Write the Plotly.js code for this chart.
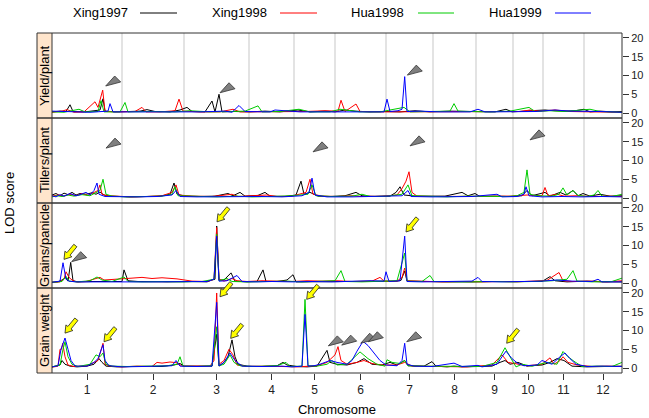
<!DOCTYPE html>
<html><head><meta charset="utf-8">
<script src="https://cdn.plot.ly/plotly-3.0.1.min.js"></script>
<style>html,body{margin:0;padding:0;background:#fff}</style>
</head><body><div id="chart" style="width:649px;height:418px"></div>
<script>
// ---------------- data ----------------
const chromosomes = ['1','2','3','4','5','6','7','8','9','10','11','12'];
// chromosome lengths in map units (1 unit ~ 2.5 cM)
const chromLen = [70,62,65,45,41,51,47,43,37,30,41,38];
const seriesNames = ['Xing1997','Xing1998','Hua1998','Hua1999'];
const seriesColors = ['#000000','#FF0000','#00CC00','#0000FF'];
const traits = ['Yield/plant','Tillers/plant','Grains/panicle','Grain weight'];
const yTicks = [0,5,10,15,20];

// LOD profiles: [position, LOD]
const yield_Xing1997 = [[0,0.3],[8,0.5],[14,0.4],[18,2.2],[21,0.4],[33,0.3],[48,0.8],[51,3.8],[53,0.5],[63,0.3],[78,0.4],[88,0.5],[95,0.9],[103,0.4],[118,0.3],[128,0.8],[135,1.5],[140,0.4],[153,0.3],[160,3.2],[163,0.3],[167,5.0],[170,0.3],[183,0.4],[198,0.3],[213,0.5],[228,0.3],[246,0.8],[258,0.3],[273,0.5],[283,0.3],[293,0.8],[303,0.5],[318,0.3],[333,0.4],[348,0.3],[363,0.6],[378,0.3],[398,0.5],[413,0.4],[428,0.3],[443,0.3],[454,1.0],[460,0.3],[478,0.6],[493,0.8],[503,0.6],[513,0.5],[523,0.6],[532,1.0],[538,0.3],[548,0.5],[560,0.3],[570,0.4]];
const yield_Xing1998 = [[0,0.2],[10,0.5],[15,0.9],[22,0.2],[32,0.3],[43,3.0],[46,1.5],[50.7,6.1],[53,0.4],[68,0.3],[83,0.4],[90,1.5],[94,0.3],[108,0.3],[123,0.6],[127,3.7],[131,0.5],[148,0.3],[168,0.3],[181,1.0],[188,0.3],[208,0.3],[223,0.5],[238,0.3],[253,0.4],[273,0.6],[286,0.5],[289,3.4],[293,0.4],[304,2.4],[308,0.4],[328,0.3],[348,0.3],[368,0.4],[388,0.3],[408,0.3],[428,0.2],[448,0.4],[468,0.4],[478,0.8],[488,0.5],[503,0.8],[518,0.4],[538,0.3],[553,0.3],[570,0.2]];
const yield_Hua1998 = [[0,0.3],[12,0.2],[27,1.0],[33,0.3],[46,0.4],[49,3.3],[52,0.3],[68,0.3],[73,2.8],[76,0.3],[98,0.4],[123,0.3],[138,0.6],[158,0.3],[178,0.4],[193,0.5],[206,1.9],[210,0.3],[228,0.4],[247,1.0],[258,0.3],[278,0.3],[288,1.0],[308,0.3],[328,0.3],[352,1.5],[358,0.3],[378,0.3],[398,0.5],[402,2.5],[406,0.5],[418,0.4],[438,0.3],[458,0.5],[477,1.5],[483,0.4],[498,0.6],[513,0.4],[523,0.6],[538,1.0],[548,0.4],[563,0.3],[570,0.2]];
const yield_Hua1999 = [[0,0.5],[8,0.4],[20,0.3],[38,0.2],[56,0.5],[58,2.5],[61,0.3],[88,0.3],[118,0.2],[148,0.3],[173,0.5],[180,0.2],[187,2.0],[193,0.4],[218,0.3],[223,0.8],[248,0.3],[268,0.3],[308,0.3],[332,0.3],[335,3.7],[338,0.4],[346,0.6],[350,1.0],[352.7,9.7],[355,0.4],[368,0.5],[388,0.3],[418,0.3],[426,1.0],[433,0.3],[458,0.3],[483,0.4],[503,0.8],[518,0.5],[548,0.4],[570,0.2]];

const tillers_Xing1997 = [[0,0.8],[4,1.2],[8,0.6],[12,1.3],[16,0.9],[20,1.5],[24,0.8],[28,1.2],[34,1.0],[40,1.4],[44,1.0],[48,1.6],[52,0.8],[58,0.5],[68,0.4],[78,0.3],[93,0.4],[108,0.5],[118,1.0],[122,4.0],[125,1.0],[133,0.5],[148,0.4],[163,0.5],[176,1.2],[181,0.6],[188,1.5],[193,0.5],[206,0.7],[213,1.5],[218,0.5],[233,0.4],[244,0.8],[249,4.5],[252,1.0],[258,1.5],[266,0.5],[278,0.4],[293,0.6],[304,1.5],[310,0.6],[323,0.4],[338,0.5],[344,1.5],[348,3.0],[352,0.8],[363,0.5],[378,0.4],[393,0.5],[410,1.5],[416,0.6],[423,1.2],[428,0.4],[443,0.5],[458,0.4],[470,0.6],[475,2.0],[480,0.6],[493,1.5],[498,0.5],[508,1.5],[514,0.8],[521,2.0],[526,0.6],[531,1.2],[538,0.5],[548,1.0],[558,0.5],[570,0.6]];
const tillers_Xing1998 = [[0,0.5],[6,0.8],[12,0.5],[18,1.0],[24,0.6],[30,1.2],[36,0.7],[42,1.5],[46,2.0],[48,3.5],[50,1.0],[55,0.6],[65,0.4],[80,0.3],[95,0.4],[110,0.6],[120,1.5],[124,3.5],[127,0.8],[140,0.5],[160,0.4],[180,1.0],[186,0.4],[200,0.5],[215,0.8],[225,0.4],[240,0.5],[254,1.5],[258,5.0],[261,1.0],[270,0.5],[285,0.4],[300,0.6],[310,0.4],[330,0.5],[345,0.8],[350,2.5],[354,4.5],[357,7.0],[360,1.5],[365,0.5],[380,0.4],[400,0.4],[420,0.5],[440,0.4],[460,0.5],[475,0.8],[490,0.6],[493,2.8],[496,0.6],[505,1.0],[512,0.5],[525,0.6],[540,0.4],[555,0.5],[570,0.4]];
const tillers_Hua1998 = [[0,0.3],[5,0.6],[10,0.4],[16,0.8],[22,0.5],[30,0.9],[38,0.6],[44,1.5],[48,2.0],[51,5.0],[54,1.0],[60,0.5],[75,0.3],[95,0.4],[110,0.5],[120,1.0],[123,3.0],[126,0.6],[145,0.4],[165,0.3],[185,0.5],[200,0.3],[220,0.4],[240,0.6],[256,1.0],[260,3.5],[264,0.6],[280,0.4],[300,0.5],[310,1.0],[318,0.4],[335,0.5],[350,1.0],[356,3.5],[360,0.6],[375,0.4],[395,0.3],[415,0.5],[435,0.4],[455,0.4],[465,0.6],[472,1.5],[475,7.5],[478,1.0],[485,0.6],[500,0.5],[507,1.0],[511,2.7],[515,0.8],[521,2.0],[526,0.7],[535,0.4],[542,0.8],[546,2.0],[550,0.5],[560,0.4],[570,1.0]];
const tillers_Hua1999 = [[0,0.6],[4,0.3],[8,0.9],[12,0.5],[18,1.2],[24,0.6],[28,0.9],[34,1.5],[38,0.8],[42,2.0],[45,4.0],[47,1.0],[53,0.4],[65,0.3],[85,0.3],[105,0.4],[120,0.8],[124,2.0],[128,0.4],[145,0.3],[170,0.4],[190,0.3],[210,0.4],[230,0.3],[250,0.6],[257,1.5],[260,5.3],[263,0.8],[275,0.3],[300,0.3],[325,0.4],[350,0.6],[356,2.0],[359,0.4],[380,0.3],[400,0.3],[420,0.4],[445,1.0],[450,0.3],[465,0.4],[472,1.0],[474,3.0],[477,0.6],[490,0.3],[510,0.4],[530,0.3],[550,0.4],[570,0.3]];

const grains_Xing1997 = [[0,0.2],[6,0.3],[10,0.8],[14,1.5],[16,0.5],[18.7,5.5],[21,0.6],[26,0.3],[40,0.4],[55,0.5],[70,0.4],[72,3.5],[76,0.6],[86,0.4],[100,0.3],[115,0.3],[140,0.4],[155,0.3],[160,0.8],[163,1.0],[164.7,15.2],[167,0.8],[172,0.8],[179,2.7],[183,0.5],[195,0.3],[205,0.4],[211,3.5],[214,0.4],[225,0.4],[235,0.8],[241,2.2],[244,0.3],[260,0.3],[280,0.4],[300,0.3],[320,0.4],[345,0.5],[349,0.7],[352.7,3.2],[355,0.5],[375,0.3],[395,0.3],[420,0.3],[440,0.4],[490,0.4],[495,1.2],[498,1.7],[503,0.6],[515,0.3],[535,0.5],[550,0.3],[570,0.3]];
const grains_Xing1998 = [[0,0.2],[8,0.3],[12,1.0],[14,3.0],[17,1.5],[20,0.8],[24,0.3],[34,0.4],[44,1.2],[48,1.5],[52,0.8],[60,1.0],[70,1.2],[80,1.3],[90,1.5],[100,1.2],[110,1.4],[125,1.1],[140,0.5],[155,0.4],[162,1.0],[164.7,14.8],[167,1.0],[172,0.5],[180,1.2],[185,0.6],[195,0.4],[210,0.6],[225,0.5],[240,0.4],[255,0.6],[270,0.5],[285,0.6],[300,0.4],[320,0.5],[328,1.5],[332,0.5],[345,0.5],[350,1.5],[352.7,4.0],[355,0.6],[370,0.4],[390,0.3],[410,0.4],[430,0.3],[450,0.4],[465,0.3],[480,0.5],[495,0.7],[507,2.8],[511,0.6],[520,0.4],[540,0.5],[555,0.3],[570,0.6]];
const grains_Hua1998 = [[0,0.2],[10,0.4],[14,1.8],[17,0.5],[25,0.3],[38,0.6],[45,1.6],[50,0.8],[60,0.4],[72,1.6],[76,0.4],[90,0.3],[110,0.4],[130,0.3],[150,0.4],[162,1.0],[164.7,13.0],[167,0.6],[175,1.2],[180,0.4],[195,0.3],[215,0.4],[235,0.5],[250,0.3],[265,0.4],[283,0.6],[289,3.3],[293,0.4],[310,0.3],[330,0.5],[345,0.6],[352.7,8.0],[355,0.5],[370,0.4],[378,2.0],[382,0.4],[400,0.3],[420,0.3],[440,0.4],[460,0.3],[480,0.4],[500,0.6],[515,1.0],[521,3.3],[525,0.5],[540,0.3],[560,0.4],[567,1.0],[570,1.3]];
const grains_Hua1999 = [[0,0.2],[8,0.5],[11,5.4],[14,1.0],[17,0.5],[24,0.3],[40,0.3],[60,0.4],[75,0.3],[100,0.3],[130,0.3],[155,0.4],[162,1.0],[164.7,12.5],[167,0.5],[175,0.6],[185,2.0],[190,0.4],[205,0.3],[220,0.4],[240,0.3],[260,0.4],[280,0.3],[300,0.5],[318,0.6],[332,0.5],[334,3.0],[337,0.4],[348,0.6],[352.7,12.5],[355,0.4],[370,0.3],[400,0.3],[420,0.5],[426,1.5],[430,0.4],[450,0.3],[470,0.4],[490,0.5],[505,0.8],[520,0.5],[540,0.4],[546,1.0],[550,0.3],[570,0.3]];

const gw_Xing1997 = [[0,0.3],[8,0.8],[10,2.0],[13,1.0],[18,0.5],[25,0.3],[35,0.5],[42,1.0],[47,2.5],[50,1.5],[54,0.5],[65,0.3],[80,0.4],[95,0.5],[110,0.4],[122,0.8],[128,1.2],[132,0.5],[150,0.4],[160,0.5],[164.7,9.0],[167,0.5],[172,1.5],[176,3.0],[180,7.5],[183,3.0],[186,1.0],[195,0.5],[210,0.4],[225,0.6],[231,1.5],[235,0.8],[245,0.4],[255,0.3],[265,0.5],[275,4.7],[278,1.5],[285,1.0],[295,0.8],[305,1.5],[312,2.5],[320,1.0],[330,0.8],[338,1.5],[345,0.8],[352.7,2.0],[356,0.6],[372,0.5],[380,1.7],[384,0.5],[395,0.3],[402,0.5],[410,0.3],[425,0.3],[440,0.5],[448,1.5],[453,2.0],[458,1.0],[466,1.5],[475,0.5],[490,0.8],[498,1.5],[505,2.5],[512,2.0],[520,0.5],[535,0.3],[550,0.4],[570,0.5]];
const gw_Xing1998 = [[0,0.2],[6,0.5],[8,5.0],[9.5,5.0],[10.7,6.6],[13,3.0],[16,0.8],[22,0.4],[35,0.6],[42,1.5],[46,2.0],[51,6.6],[53,1.0],[58,0.5],[70,0.3],[85,0.5],[100,0.4],[105,1.5],[110,1.3],[118,1.6],[125,1.4],[130,0.5],[145,0.4],[158,0.5],[162,2.0],[164.7,20.0],[167,1.0],[172,2.0],[177,5.0],[181,3.5],[185,0.8],[195,0.4],[215,0.5],[230,0.4],[245,0.3],[265,0.6],[275,1.5],[283,3.5],[286,5.7],[289,2.0],[295,1.0],[305,1.5],[312,2.0],[320,1.2],[330,0.8],[345,0.8],[352.7,1.5],[360,0.5],[380,0.4],[395,0.3],[415,0.3],[440,0.8],[450,3.5],[456,1.5],[465,1.0],[475,0.6],[490,1.0],[498,2.7],[502,1.0],[508,2.0],[511,3.0],[516,1.5],[525,0.8],[540,0.4],[555,0.5],[570,0.4]];
const gw_Hua1998 = [[0,0.3],[8,0.8],[11,5.0],[13,7.0],[16,3.0],[20,1.0],[26,0.4],[38,1.0],[44,3.5],[48,3.0],[51,4.0],[54,1.0],[60,0.5],[75,0.4],[95,0.5],[115,0.6],[125,1.0],[128,3.0],[131,0.5],[145,0.4],[160,0.6],[164.7,11.0],[167,0.6],[172,1.0],[178,3.5],[182,1.5],[188,0.6],[200,0.4],[225,0.6],[234,1.5],[238,0.4],[250,0.5],[253,18.3],[256,0.6],[265,0.5],[275,1.0],[280,2.0],[285,0.8],[295,1.0],[303,3.0],[308,4.3],[316,2.5],[325,1.0],[333,0.5],[335,2.2],[340,1.5],[348,1.2],[352.7,2.0],[356,0.6],[370,0.5],[390,0.4],[402,0.5],[410,0.3],[430,0.4],[445,1.5],[453,5.4],[458,3.0],[464,0.3],[470,1.0],[480,0.5],[495,1.5],[505,1.0],[511,4.4],[516,3.0],[522,1.8],[530,0.4],[545,0.5],[560,0.4],[570,1.5]];
const gw_Hua1999 = [[0,0.3],[6,0.6],[9,5.0],[13,8.0],[16,5.0],[19,2.0],[23,0.5],[35,0.5],[42,1.5],[46,2.5],[51,6.2],[53,2.0],[57,0.6],[70,0.3],[90,0.4],[110,0.5],[120,0.6],[124,2.0],[128,0.5],[145,0.4],[160,0.5],[164.7,17.5],[167,0.6],[172,1.5],[178,4.0],[183,2.0],[190,0.5],[210,0.4],[230,0.5],[240,0.3],[250,0.5],[253,14.3],[256,0.5],[262,0.6],[268,1.0],[278,2.0],[285,1.5],[295,1.0],[300,2.0],[305,4.5],[311,7.1],[316,6.0],[322,4.0],[328,2.0],[334,0.8],[345,0.6],[350,2.0],[352.7,6.6],[355,1.0],[362,0.5],[380,0.4],[402,1.3],[410,0.4],[426,0.7],[430,0.3],[445,1.0],[450,3.0],[454,4.5],[460,2.5],[466,1.2],[472,0.6],[485,0.8],[490,2.0],[500,1.0],[508,3.0],[513,4.0],[518,2.5],[524,1.0],[535,0.4],[550,0.5],[570,0.4]];

// annotation markers: [trait index, position, LOD] of arrow tips
const grayArrows = [[0,53.7,7.2],[0,168,5.4],[0,355.3,10.1],
  [1,54,13.3],[1,261,12.3],[1,358,13.9],[1,478,15.5],
  [2,19.7,5.7],
  [3,276.3,5.9],[3,289.7,6.1],[3,308.7,6.6],[3,316.3,7.0],[3,354.7,7.0]];
const yellowArrows = [[2,12,6.3],[2,165,16.3],[2,354,13.6],
  [3,13,9.3],[3,52,7.0],[3,168,19.0],[3,178.7,7.9],[3,254.7,18.3],[3,454.7,6.6]];

// ---------------- build ----------------
const profiles = [
  [yield_Xing1997, yield_Xing1998, yield_Hua1998, yield_Hua1999],
  [tillers_Xing1997, tillers_Xing1998, tillers_Hua1998, tillers_Hua1999],
  [grains_Xing1997, grains_Xing1998, grains_Hua1998, grains_Hua1999],
  [gw_Xing1997, gw_Xing1998, gw_Hua1998, gw_Hua1999]
];
const chromStart = []; let acc = 0;
chromLen.forEach(l => { chromStart.push(acc); acc += l; });
const genomeLen = acc;
const tickvals = chromLen.map((l,i) => chromStart[i] + l/2);

const W = 649, H = 418, ML = 37, MR = 27, MT = 33, MB = 45;
const plotW = W - ML - MR;
const stripW = 15 / plotW;
const yRange = [-1.33, 21.33];

function yId(i){ const n = 4 - i; return n === 1 ? 'y' : 'y' + n; }
function yKey(i){ const n = 4 - i; return n === 1 ? 'yaxis' : 'yaxis' + n; }
function dom(i){ return [0.75 - 0.25*i, 1 - 0.25*i]; }
function paperY(i, v){ const d = dom(i); return d[0] + (v - yRange[0])/(yRange[1]-yRange[0]) * (d[1]-d[0]); }

const data = [];
profiles.forEach((group, i) => {
  group.forEach((pts, j) => {
    data.push({type:'scatter', mode:'lines', name: seriesNames[j],
      x: pts.map(p => p[0]), y: pts.map(p => p[1]),
      xaxis:'x', yaxis: yId(i), line:{color: seriesColors[j], width:1},
      showlegend:false, hoverinfo:'skip'});
  });
});

const layout = {
  width: W, height: H,
  margin: {l: ML, r: MR, t: MT, b: MB},
  paper_bgcolor: '#ffffff', plot_bgcolor: 'rgba(0,0,0,0)',
  font: {family: 'Liberation Sans, Arial, sans-serif', size: 12, color: '#000'},
  showlegend: false,
  xaxis: {domain: [stripW, 1], range: [0, genomeLen], anchor: 'y',
    tickmode: 'array', tickvals: tickvals, ticktext: chromosomes,
    ticks: 'outside', ticklen: 6, tickcolor: '#333', tickfont: {size: 12, color: '#222'},
    showgrid: false, zeroline: false, showline: false,
    title: {text: 'Chromosome', font: {size: 13, color: '#000'}, standoff: 8}},
  shapes: [], annotations: []
};
traits.forEach((t, i) => {
  layout[yKey(i)] = {domain: dom(i), range: yRange, anchor: 'x', side: 'right',
    tickmode: 'array', tickvals: yTicks, ticks: 'outside', ticklen: 6, tickcolor: '#333',
    tickfont: {size: 11, color: '#222'}, showgrid: false, zeroline: false, showline: false};
  layout['yaxis' + (5 + i)] = {overlaying: yId(i), anchor: 'free', position: 0, side: 'left',
    range: yRange, tickmode: 'array', tickvals: yTicks, ticks: 'outside', ticklen: 6,
    tickcolor: '#333', showticklabels: false, showgrid: false, zeroline: false, showline: false};
});

// chromosome boundary grid lines
chromStart.slice(1).forEach(b => {
  layout.shapes.push({type:'line', xref:'x', yref:'paper', x0:b, x1:b, y0:0, y1:1,
    line:{color:'#DADADA', width:1.5}, layer:'below'});
});
// strips and frames
traits.forEach((t, i) => {
  const d = dom(i);
  layout.shapes.push({type:'rect', xref:'paper', yref:'paper', x0:0, x1:stripW, y0:d[0], y1:d[1],
    fillcolor:'#FFE5CC', line:{width:0}, layer:'below'});
  layout.shapes.push({type:'rect', xref:'paper', yref:'paper', x0:0, x1:1, y0:d[0], y1:d[1],
    fillcolor:'rgba(0,0,0,0)', line:{color:'#333', width:1}});
  layout.shapes.push({type:'line', xref:'paper', yref:'paper', x0:stripW, x1:stripW, y0:d[0], y1:d[1],
    line:{color:'#333', width:1}});
  layout.annotations.push({xref:'paper', yref:'paper', x: stripW/2, y:(d[0]+d[1])/2, text: t,
    textangle:-90, showarrow:false, font:{size:13, color:'#000'}, xanchor:'center', yanchor:'middle'});
});
// arrows
const grayPath = 'M0,0 L9,10 L15,4 Z';
const yellowPath = 'M0,0 L0.9,8.2 L2.9,6.7 L9.8,15.1 L12.9,12.6 L6,4.1 L7.9,2.6 Z';
grayArrows.forEach(a => {
  layout.shapes.push({type:'path', xref:'x', yref:'paper', xsizemode:'pixel', ysizemode:'pixel',
    xanchor:a[1], yanchor: paperY(a[0], a[2]), path: grayPath,
    fillcolor:'#7F7F7F', line:{color:'#333', width:0.8}});
});
yellowArrows.forEach(a => {
  layout.shapes.push({type:'path', xref:'x', yref:'paper', xsizemode:'pixel', ysizemode:'pixel',
    xanchor:a[1], yanchor: paperY(a[0], a[2]), path: yellowPath,
    fillcolor:'#FFFF00', line:{color:'#222', width:0.8}});
});
// legend (text followed by line sample)
const legTextX = [100, 239.5, 377.5, 515.5];
const legLineX = [[140,177],[280,317],[418,454],[555,591]];
const legY = 1 + 20/(H - MT - MB);
seriesNames.forEach((n, j) => {
  layout.annotations.push({xref:'paper', yref:'paper', x:(legTextX[j]-ML)/plotW, y:legY, text:n,
    showarrow:false, font:{size:13, color:'#000'}, xanchor:'center', yanchor:'middle'});
  layout.shapes.push({type:'line', xref:'paper', yref:'paper',
    x0:(legLineX[j][0]-ML)/plotW, x1:(legLineX[j][1]-ML)/plotW, y0:legY, y1:legY,
    line:{color: seriesColors[j], width:1}});
});
// y axis title
layout.annotations.push({xref:'paper', yref:'paper', x:(9-ML)/plotW, y:0.5, text:'LOD score',
  textangle:-90, showarrow:false, font:{size:13, color:'#000'}, xanchor:'center', yanchor:'middle'});

Plotly.newPlot('chart', data, layout, {staticPlot:true, displayModeBar:false});
</script></body></html>
